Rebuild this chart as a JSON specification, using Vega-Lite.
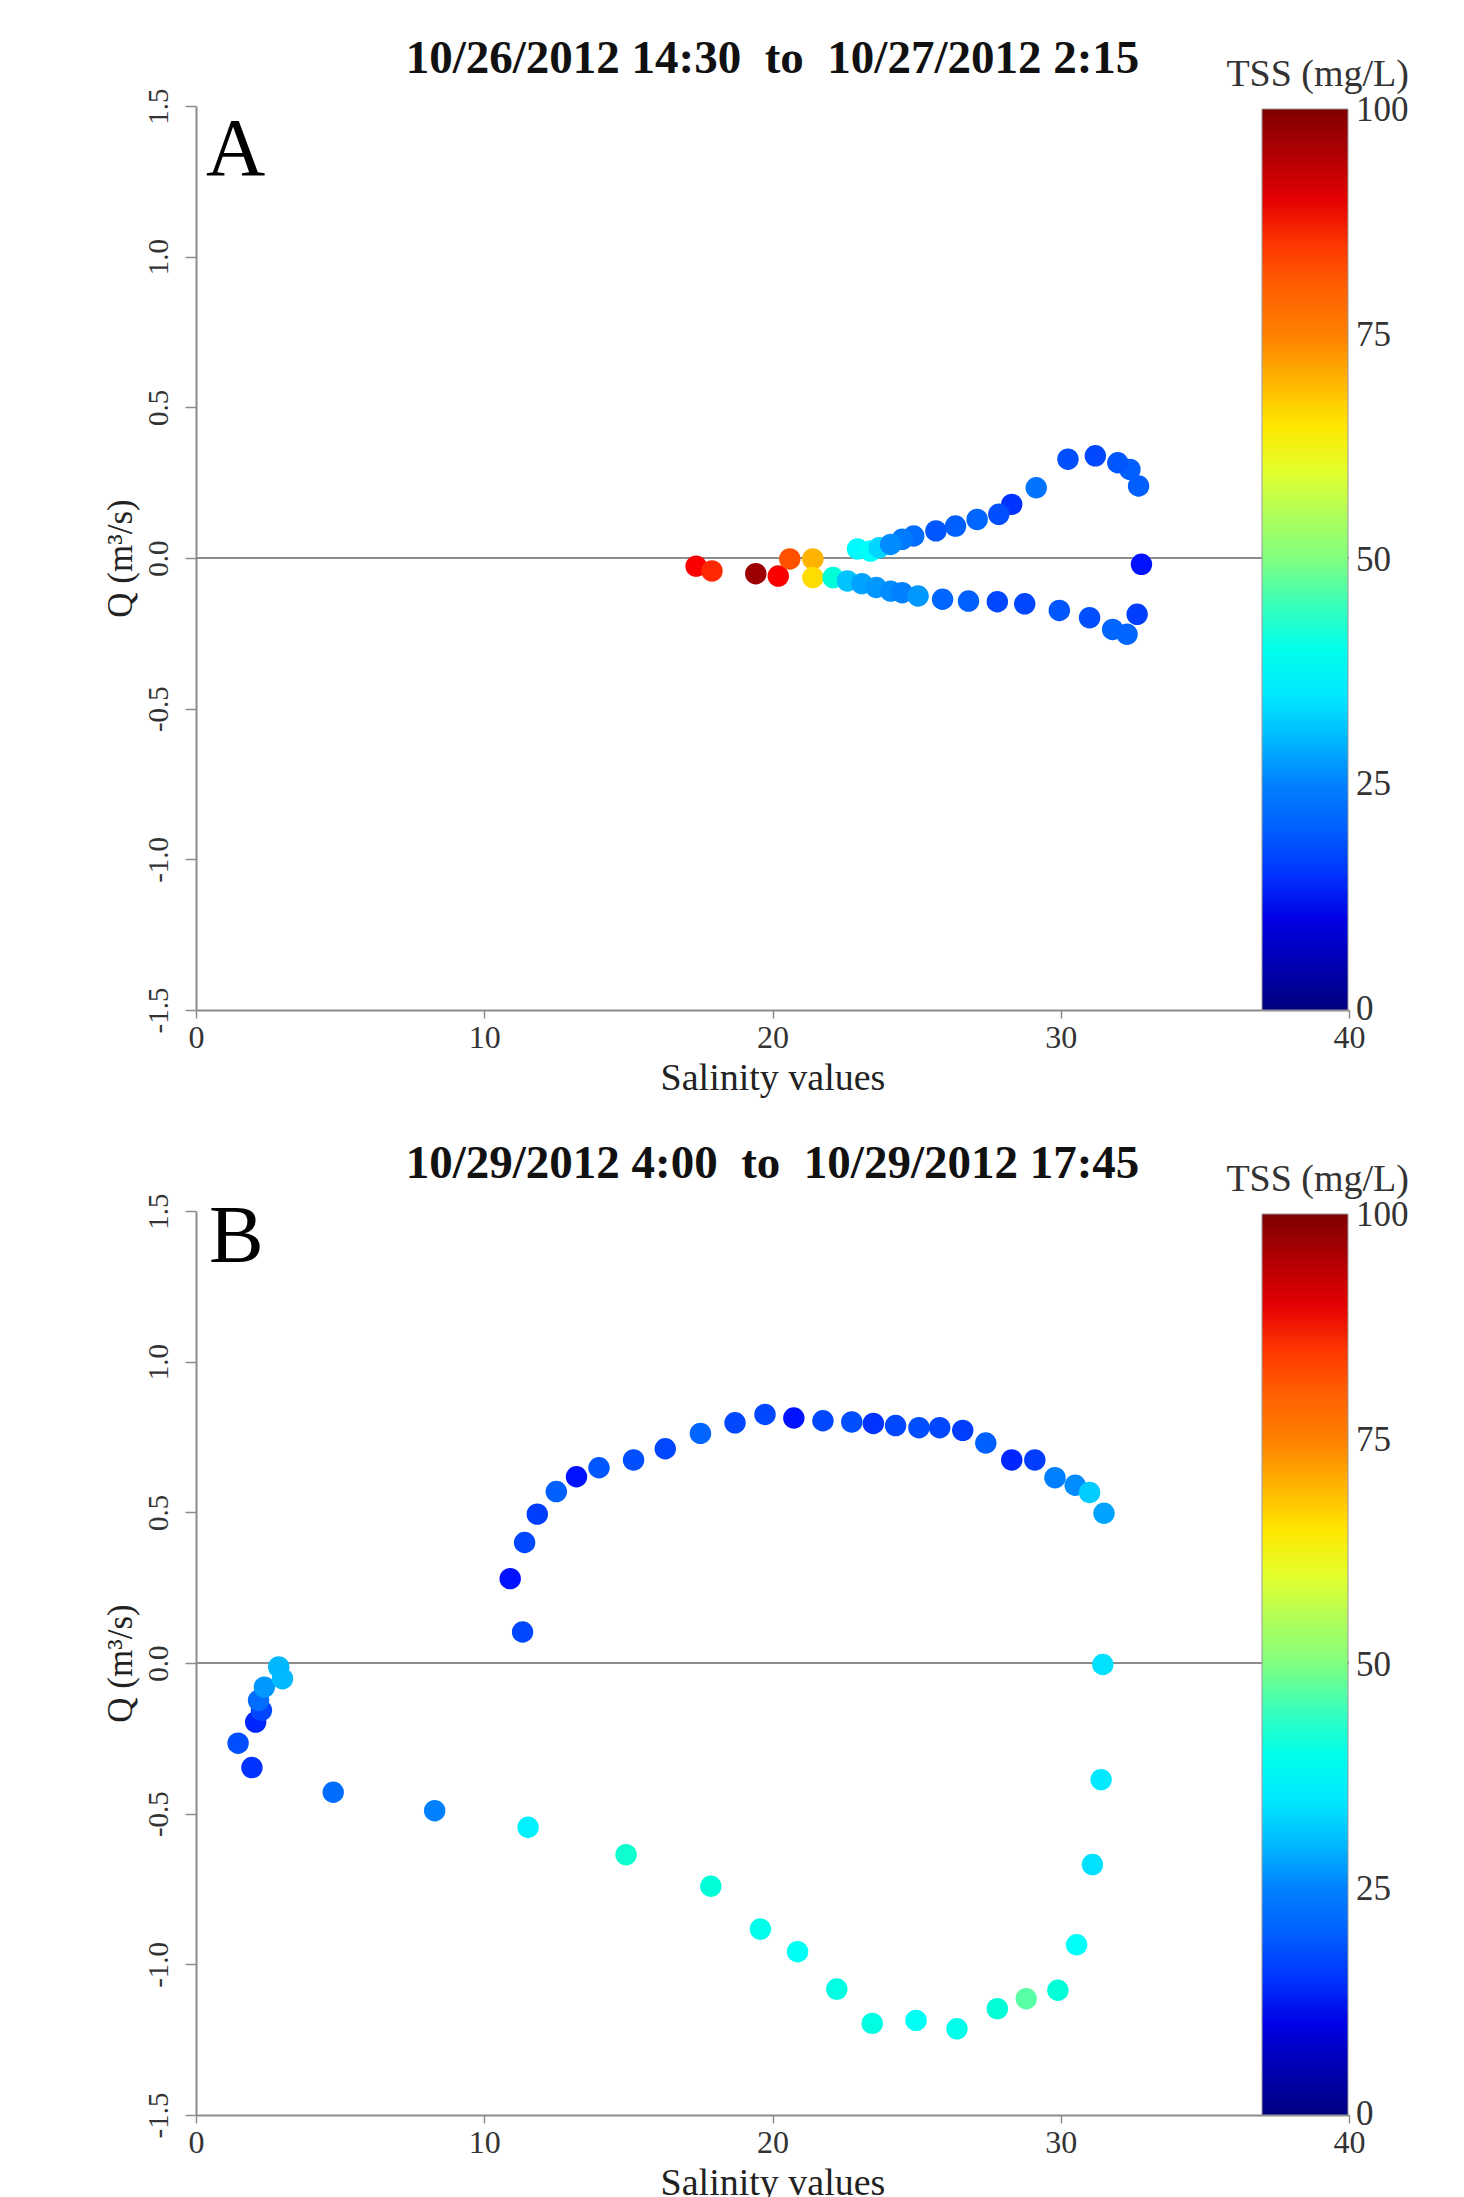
{
  "$schema": "https://vega.github.io/schema/vega-lite/v6.json",
  "padding": {"top": 35, "left": 103, "right": 5, "bottom": 5},
  "background": "white",
  "config": {
    "font": "Liberation Serif",
    "view": {"stroke": null},
    "axis": {
      "grid": false,
      "domainColor": "#8c8c8c",
      "domainWidth": 2,
      "tickColor": "#8c8c8c",
      "tickWidth": 1.5,
      "labelColor": "#333333",
      "titleColor": "#222222",
      "labelFont": "Liberation Serif",
      "titleFont": "Liberation Serif",
      "titleFontWeight": "normal",
      "labelFlush": false,
      "labelOverlap": false
    },
    "legend": {
      "labelFont": "Liberation Serif",
      "titleFont": "Liberation Serif"
    }
  },
  "datasets": {
    "panelA": [
      {"salinity": 17.35, "q": -0.027, "tss": 88},
      {"salinity": 17.9, "q": -0.043, "tss": 86},
      {"salinity": 19.42, "q": -0.052, "tss": 97},
      {"salinity": 20.2, "q": -0.06, "tss": 88},
      {"salinity": 20.6, "q": -0.003, "tss": 82},
      {"salinity": 21.4, "q": -0.003, "tss": 70},
      {"salinity": 21.4, "q": -0.065, "tss": 66},
      {"salinity": 22.1, "q": -0.065, "tss": 42},
      {"salinity": 22.95, "q": 0.03, "tss": 37},
      {"salinity": 23.4, "q": 0.023, "tss": 38},
      {"salinity": 23.7, "q": 0.034, "tss": 33},
      {"salinity": 22.6, "q": -0.076, "tss": 31},
      {"salinity": 23.1, "q": -0.085, "tss": 28},
      {"salinity": 23.6, "q": -0.098, "tss": 27},
      {"salinity": 24.1, "q": -0.11, "tss": 26},
      {"salinity": 24.5, "q": -0.115, "tss": 25},
      {"salinity": 25.05, "q": -0.126, "tss": 27},
      {"salinity": 25.9, "q": -0.137, "tss": 21},
      {"salinity": 26.8, "q": -0.143, "tss": 20},
      {"salinity": 27.8, "q": -0.145, "tss": 17},
      {"salinity": 28.75, "q": -0.152, "tss": 17},
      {"salinity": 29.95, "q": -0.174, "tss": 19},
      {"salinity": 31.0, "q": -0.198, "tss": 18},
      {"salinity": 31.8, "q": -0.237, "tss": 21},
      {"salinity": 32.3, "q": -0.253, "tss": 21},
      {"salinity": 32.65, "q": -0.187, "tss": 16},
      {"salinity": 32.8, "q": -0.021, "tss": 13},
      {"salinity": 32.7, "q": 0.239, "tss": 20},
      {"salinity": 32.4, "q": 0.294, "tss": 20},
      {"salinity": 31.98, "q": 0.316, "tss": 19},
      {"salinity": 31.2, "q": 0.339, "tss": 17},
      {"salinity": 30.25, "q": 0.328, "tss": 18},
      {"salinity": 29.15, "q": 0.233, "tss": 23},
      {"salinity": 28.3, "q": 0.178, "tss": 15},
      {"salinity": 27.85, "q": 0.145, "tss": 18},
      {"salinity": 27.1, "q": 0.128, "tss": 21},
      {"salinity": 26.35, "q": 0.106, "tss": 20},
      {"salinity": 25.67, "q": 0.09, "tss": 19},
      {"salinity": 24.9, "q": 0.073, "tss": 22},
      {"salinity": 24.5, "q": 0.062, "tss": 24},
      {"salinity": 24.1, "q": 0.045, "tss": 26}
    ],
    "panelB": [
      {"salinity": 11.33, "q": 0.103, "tss": 17},
      {"salinity": 10.9, "q": 0.28, "tss": 13},
      {"salinity": 11.4, "q": 0.4, "tss": 17},
      {"salinity": 11.84, "q": 0.494, "tss": 16},
      {"salinity": 12.5, "q": 0.569, "tss": 20},
      {"salinity": 13.2, "q": 0.618, "tss": 13},
      {"salinity": 13.98, "q": 0.648, "tss": 19},
      {"salinity": 15.18, "q": 0.674, "tss": 18},
      {"salinity": 16.28, "q": 0.711, "tss": 17},
      {"salinity": 17.5, "q": 0.762, "tss": 21},
      {"salinity": 18.7, "q": 0.797, "tss": 17},
      {"salinity": 19.74, "q": 0.825, "tss": 17},
      {"salinity": 20.74, "q": 0.813, "tss": 13},
      {"salinity": 21.75, "q": 0.804, "tss": 17},
      {"salinity": 22.75, "q": 0.8, "tss": 18},
      {"salinity": 23.5, "q": 0.795, "tss": 15},
      {"salinity": 24.27, "q": 0.788, "tss": 17},
      {"salinity": 25.08, "q": 0.781, "tss": 18},
      {"salinity": 25.8, "q": 0.781, "tss": 17},
      {"salinity": 26.6, "q": 0.772, "tss": 16},
      {"salinity": 27.4, "q": 0.73, "tss": 20},
      {"salinity": 28.3, "q": 0.674, "tss": 14},
      {"salinity": 29.1, "q": 0.674, "tss": 16},
      {"salinity": 29.8, "q": 0.615, "tss": 25},
      {"salinity": 30.5, "q": 0.59, "tss": 26},
      {"salinity": 31.0, "q": 0.566, "tss": 32},
      {"salinity": 31.5, "q": 0.497, "tss": 28},
      {"salinity": 31.46, "q": -0.005, "tss": 34},
      {"salinity": 31.4, "q": -0.387, "tss": 35},
      {"salinity": 31.1, "q": -0.669, "tss": 34},
      {"salinity": 30.55, "q": -0.935, "tss": 38},
      {"salinity": 29.9, "q": -1.086, "tss": 42},
      {"salinity": 28.8, "q": -1.114, "tss": 47},
      {"salinity": 27.8, "q": -1.147, "tss": 42},
      {"salinity": 26.4, "q": -1.214, "tss": 40},
      {"salinity": 24.98, "q": -1.186, "tss": 39},
      {"salinity": 23.46, "q": -1.196, "tss": 41},
      {"salinity": 22.23, "q": -1.082, "tss": 41},
      {"salinity": 20.87, "q": -0.958, "tss": 39},
      {"salinity": 19.58, "q": -0.883, "tss": 40},
      {"salinity": 17.86, "q": -0.741, "tss": 42},
      {"salinity": 14.92, "q": -0.636, "tss": 43},
      {"salinity": 11.52, "q": -0.545, "tss": 36},
      {"salinity": 8.28, "q": -0.49, "tss": 25},
      {"salinity": 4.76, "q": -0.429, "tss": 22},
      {"salinity": 1.94, "q": -0.347, "tss": 15},
      {"salinity": 1.46, "q": -0.266, "tss": 18},
      {"salinity": 2.07, "q": -0.196, "tss": 14},
      {"salinity": 2.27, "q": -0.157, "tss": 17},
      {"salinity": 2.17, "q": -0.124, "tss": 22},
      {"salinity": 2.37, "q": -0.08, "tss": 27},
      {"salinity": 2.87, "q": -0.013, "tss": 30},
      {"salinity": 3.0, "q": -0.052, "tss": 30}
    ]
  },
  "bounds": "flush",
  "spacing": 201,
  "resolve": {"scale": {"color": "independent"}, "legend": {"color": "independent"}},
  "vconcat": [
    {
      "width": 1153,
      "height": 904,
      "title": {"text": "10/26/2012 14:30\u00a0\u00a0to\u00a0\u00a010/27/2012 2:15", "font": "Liberation Serif", "fontSize": 47, "fontWeight": "bold", "color": "#111111", "anchor": "middle", "frame": "group", "baseline": "alphabetic", "offset": -64},
      "layer": [
        {
          "data": {"values": [{}]},
          "mark": {"type": "rule", "color": "#8c8c8c", "strokeWidth": 2},
          "encoding": {"y": {"datum": 0, "type": "quantitative", "scale": {"domain": [-1.5, 1.5]}}}
        },
        {
          "data": {"name": "panelA"},
          "mark": {"type": "circle", "size": 460, "opacity": 1},
          "encoding": {
            "x": {"field": "salinity", "type": "quantitative", "scale": {"domain": [0, 40], "nice": false, "zero": false},
              "axis": {"values": [0, 10, 20, 30, 40], "tickSize": 8, "labelFontSize": 32, "labelPadding": 4, "title": "Salinity values", "titleFontSize": 38, "titlePadding": 6}},
            "y": {"field": "q", "type": "quantitative", "scale": {"domain": [-1.5, 1.5], "nice": false},
              "axis": {"values": [-1.5, -1, -0.5, 0, 0.5, 1, 1.5], "labelExpr": "datum.value < 0 ? '-' + format(-datum.value, '.1f') : format(datum.value, '.1f')", "labelAngle": -90, "labelAlign": "center", "labelBaseline": "alphabetic", "labelPadding": 18, "labelFontSize": 29, "tickSize": 11, "title": "Q (m³/s)", "titleFontSize": 35, "titlePadding": 6}},
            "color": {"field": "tss", "type": "quantitative",
              "scale": {"type": "linear", "domain": [-0.1, 12.5, 25, 37.5, 50, 62.5, 75, 87.5, 100.1], "range": ["#00007f", "#0000ff", "#0080ff", "#00ffff", "#80ff80", "#ffff00", "#ff8000", "#ff0000", "#7f0000"]},
              "legend": {"type": "gradient", "direction": "vertical", "orient": "none", "legendX": 1030, "legendY": -50, "gradientLength": 901, "gradientThickness": 86, "gradientStrokeColor": "#999999", "gradientStrokeWidth": 1, "values": [0, 25, 50, 75, 100], "labelFontSize": 35, "labelColor": "#333333", "labelOffset": 8, "labelOverlap": false, "title": "TSS (mg/L)", "titleFontSize": 38, "titleFontWeight": "normal", "titleColor": "#333333", "titleAnchor": "end", "titleBaseline": "top", "titlePadding": 15, "titleLimit": 500}}
          }
        },
        {
          "data": {"values": [{}]},
          "mark": {"type": "text", "fontSize": 82, "align": "left", "baseline": "alphabetic", "color": "#000000", "font": "Liberation Serif"},
          "encoding": {"x": {"datum": 0.35, "type": "quantitative"}, "y": {"datum": 1.27, "type": "quantitative"}, "text": {"value": "A"}}
        }
      ]
    },
    {
      "width": 1153,
      "height": 904,
      "title": {"text": "10/29/2012 4:00\u00a0\u00a0to\u00a0\u00a010/29/2012 17:45", "font": "Liberation Serif", "fontSize": 47, "fontWeight": "bold", "color": "#111111", "anchor": "middle", "frame": "group", "baseline": "alphabetic", "offset": -64},
      "layer": [
        {
          "data": {"values": [{}]},
          "mark": {"type": "rule", "color": "#8c8c8c", "strokeWidth": 2},
          "encoding": {"y": {"datum": 0, "type": "quantitative", "scale": {"domain": [-1.5, 1.5]}}}
        },
        {
          "data": {"name": "panelB"},
          "mark": {"type": "circle", "size": 460, "opacity": 1},
          "encoding": {
            "x": {"field": "salinity", "type": "quantitative", "scale": {"domain": [0, 40], "nice": false, "zero": false},
              "axis": {"values": [0, 10, 20, 30, 40], "tickSize": 8, "labelFontSize": 32, "labelPadding": 4, "title": "Salinity values", "titleFontSize": 38, "titlePadding": 6}},
            "y": {"field": "q", "type": "quantitative", "scale": {"domain": [-1.5, 1.5], "nice": false},
              "axis": {"values": [-1.5, -1, -0.5, 0, 0.5, 1, 1.5], "labelExpr": "datum.value < 0 ? '-' + format(-datum.value, '.1f') : format(datum.value, '.1f')", "labelAngle": -90, "labelAlign": "center", "labelBaseline": "alphabetic", "labelPadding": 18, "labelFontSize": 29, "tickSize": 11, "title": "Q (m³/s)", "titleFontSize": 35, "titlePadding": 6}},
            "color": {"field": "tss", "type": "quantitative",
              "scale": {"type": "linear", "domain": [-0.1, 12.5, 25, 37.5, 50, 62.5, 75, 87.5, 100.1], "range": ["#00007f", "#0000ff", "#0080ff", "#00ffff", "#80ff80", "#ffff00", "#ff8000", "#ff0000", "#7f0000"]},
              "legend": {"type": "gradient", "direction": "vertical", "orient": "none", "legendX": 1030, "legendY": -50, "gradientLength": 901, "gradientThickness": 86, "gradientStrokeColor": "#999999", "gradientStrokeWidth": 1, "values": [0, 25, 50, 75, 100], "labelFontSize": 35, "labelColor": "#333333", "labelOffset": 8, "labelOverlap": false, "title": "TSS (mg/L)", "titleFontSize": 38, "titleFontWeight": "normal", "titleColor": "#333333", "titleAnchor": "end", "titleBaseline": "top", "titlePadding": 15, "titleLimit": 500}}
          }
        },
        {
          "data": {"values": [{}]},
          "mark": {"type": "text", "fontSize": 82, "align": "left", "baseline": "alphabetic", "color": "#000000", "font": "Liberation Serif"},
          "encoding": {"x": {"datum": 0.45, "type": "quantitative"}, "y": {"datum": 1.33, "type": "quantitative"}, "text": {"value": "B"}}
        }
      ]
    }
  ]
}
